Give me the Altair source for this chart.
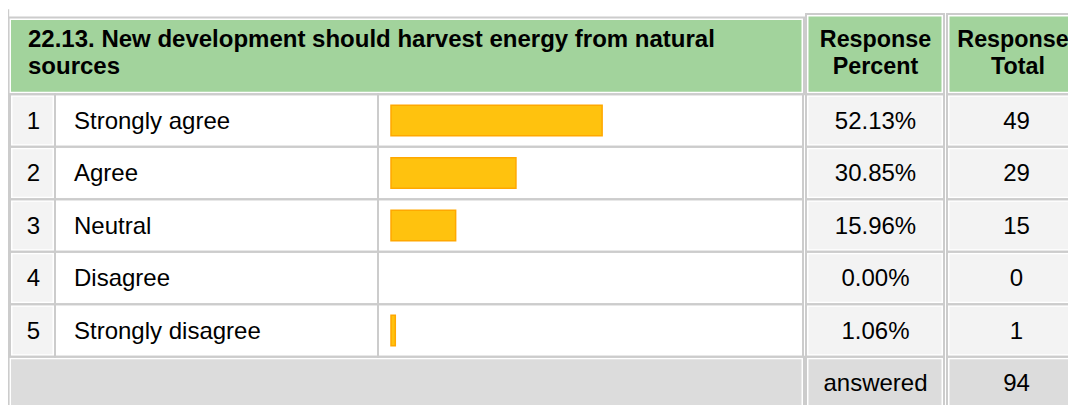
import altair as alt
import pandas as pd

# ---------------- data ----------------
title_lines = ["22.13. New development should harvest energy from natural", "sources"]
pct_header = ["Response", "Percent"]
total_header = ["Response", "Total"]
row_ids = [1, 2, 3, 4, 5]
categories = ["Strongly agree", "Agree", "Neutral", "Disagree", "Strongly disagree"]
percents = [52.13, 30.85, 15.96, 0.00, 1.06]
counts = [49, 29, 15, 0, 1]
footer_label = "answered"
answered_total = 94

# ---------------- layout / style ----------------
W, H = 1060, 397
FONT = "Liberation Sans"
FS = 24
HFS = 23.3
GREEN = "#a2d39c"
CELL_GREY = "#f3f3f3"
FOOT_GREY = "#dcdcdc"
WHITE = "#ffffff"
BORDER = "#cccccc"
BAR_FILL = "#ffc20e"
BAR_STROKE = "#ffa800"
UNIT = 52.5          # pixels per table row
INS = 2.5            # fill inset inside the cell border (px)
FOOTER_ROW = 6

PX = alt.Scale(domain=[0, W], range=[0, W], nice=False, zero=False)
ROWS = alt.Scale(domain=[0, 7], range=[60, 60 + 7 * UNIT], nice=False, zero=False)
BARX = alt.Scale(domain=[0, 100], range=[383, 788], nice=False, zero=False)

COL = {
    "num": (2, 47), "label": (47, 370), "bar": (370, 795),
    "pct": (798, 936), "total": (939, 1090),
}
COL_CENTER = {"num": 25.5, "pct": 867.5, "total": 1008.5}
HDR_X = [867.5, 867.5, 1005, 1010]
LABEL_X = 66
TITLE_X = 20
TITLE_Y = [-0.405, 0.118]

# ---------------- cells ----------------
cells = []


def add_cell(x0, x1, y0, y1, fill):
    cells.append(dict(x0=x0, x1=x1, y0=y0, y1=y1, fill=fill,
                      fx0=x0 + INS, fx1=x1 - INS,
                      fy0=y0 + INS / UNIT, fy1=y1 - INS / UNIT))


add_cell(0.5, 796, -0.96, 0.5, GREEN)
add_cell(*COL["pct"], -1.03, 0.5, GREEN)
add_cell(*COL["total"], -1.03, 0.5, GREEN)
for r in row_ids:
    add_cell(*COL["num"], r - 0.5, r + 0.5, CELL_GREY)
    add_cell(*COL["label"], r - 0.5, r + 0.5, WHITE)
    add_cell(*COL["bar"], r - 0.5, r + 0.5, WHITE)
    add_cell(*COL["pct"], r - 0.5, r + 0.5, CELL_GREY)
    add_cell(*COL["total"], r - 0.5, r + 0.5, CELL_GREY)
add_cell(0.5, 796, FOOTER_ROW - 0.5, FOOTER_ROW + 0.7, FOOT_GREY)
add_cell(*COL["pct"], FOOTER_ROW - 0.5, FOOTER_ROW + 0.7, FOOT_GREY)
add_cell(*COL["total"], FOOTER_ROW - 0.5, FOOTER_ROW + 0.7, FOOT_GREY)
cells_df = pd.DataFrame(cells)

fills = alt.Chart(cells_df).mark_rect().encode(
    x=alt.X("fx0:Q", scale=PX, axis=None), x2="fx1:Q",
    y=alt.Y("fy0:Q", scale=ROWS, axis=None), y2="fy1:Q",
    color=alt.Color("fill:N", scale=None),
)
borders = alt.Chart(cells_df).mark_rect(fillOpacity=0, stroke=BORDER, strokeWidth=2).encode(
    x=alt.X("x0:Q", scale=PX, axis=None), x2="x1:Q",
    y=alt.Y("y0:Q", scale=ROWS, axis=None), y2="y1:Q",
)
left_rule = alt.Chart(pd.DataFrame({"x": [0.3], "y0": [-1.12], "y1": [7]})).mark_rule(
    color=BORDER, strokeWidth=1.8).encode(
    x=alt.X("x:Q", scale=PX, axis=None),
    y=alt.Y("y0:Q", scale=ROWS, axis=None), y2="y1:Q",
)

# ---------------- bars ----------------
rows_df = pd.DataFrame({
    "row": row_ids,
    "label": categories,
    "pct": percents,
    "count": counts,
})
rows_df["pct_text"] = [f"{p:.2f}%" for p in percents]
rows_df["count_text"] = [str(c) for c in counts]
rows_df["zero"] = 0
rows_df["b0"] = rows_df["row"] - 0.29
rows_df["b1"] = rows_df["row"] + 0.29

bars = alt.Chart(rows_df).transform_filter("datum.pct > 0").mark_rect(
    fill=BAR_FILL, stroke=BAR_STROKE, strokeWidth=1.5).encode(
    x=alt.X("zero:Q", scale=BARX, axis=None), x2="pct:Q",
    y=alt.Y("b0:Q", scale=ROWS, axis=None), y2="b1:Q",
)

# ---------------- texts ----------------
title_df = pd.DataFrame({"x": [TITLE_X] * 2, "y": TITLE_Y, "t": title_lines})
title_txt = alt.Chart(title_df).mark_text(
    font=FONT, fontSize=FS, fontWeight="bold", align="left", baseline="alphabetic", color="#000").encode(
    x=alt.X("x:Q", scale=PX, axis=None), y=alt.Y("y:Q", scale=ROWS, axis=None), text="t:N")

hdr_df = pd.DataFrame({
    "x": HDR_X,
    "y": TITLE_Y + TITLE_Y,
    "t": pct_header + total_header,
})
hdr_txt = alt.Chart(hdr_df).mark_text(
    font=FONT, fontSize=HFS, fontWeight="bold", align="center", baseline="alphabetic", color="#000").encode(
    x=alt.X("x:Q", scale=PX, axis=None), y=alt.Y("y:Q", scale=ROWS, axis=None), text="t:N")

label_txt = alt.Chart(rows_df).transform_calculate(lx=str(LABEL_X)).mark_text(
    font=FONT, fontSize=FS, align="left", baseline="alphabetic", dy=8, color="#000").encode(
    x=alt.X("lx:Q", scale=PX, axis=None), y=alt.Y("row:Q", scale=ROWS, axis=None), text="label:N")

center_rows = []
for r, p, c in zip(row_ids, rows_df["pct_text"], rows_df["count_text"]):
    center_rows.append(dict(x=COL_CENTER["num"], y=r, t=str(r)))
    center_rows.append(dict(x=COL_CENTER["pct"], y=r, t=p))
    center_rows.append(dict(x=COL_CENTER["total"], y=r, t=c))
center_rows.append(dict(x=COL_CENTER["pct"], y=FOOTER_ROW, t=footer_label))
center_rows.append(dict(x=COL_CENTER["total"], y=FOOTER_ROW, t=str(answered_total)))
center_df = pd.DataFrame(center_rows)
center_txt = alt.Chart(center_df).mark_text(
    font=FONT, fontSize=FS, align="center", baseline="alphabetic", dy=8, color="#000").encode(
    x=alt.X("x:Q", scale=PX, axis=None), y=alt.Y("y:Q", scale=ROWS, axis=None), text="t:N")

chart = alt.layer(
    fills, borders, left_rule, bars, title_txt, hdr_txt, label_txt, center_txt
).resolve_scale(x="independent").properties(
    width=W, height=H, padding=0,
    autosize=alt.AutoSizeParams(type="none"),
).configure_view(strokeWidth=0)

chart.save("out.html", embed_options={"renderer": "svg", "actions": False})
